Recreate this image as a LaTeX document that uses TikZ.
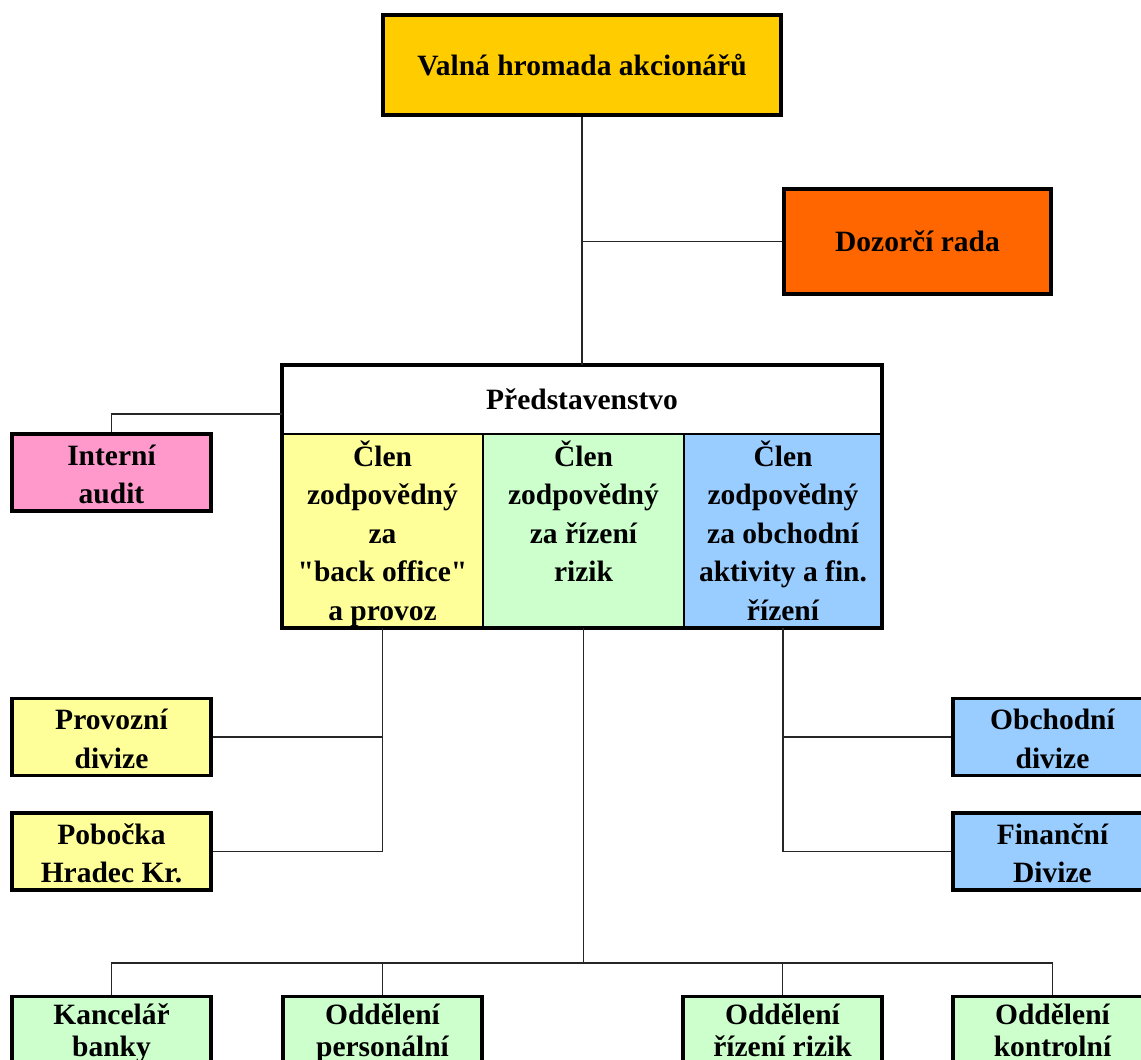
\documentclass[tikz,border=0pt]{standalone}
\usepackage{fontspec}
\setmainfont{Liberation Serif}[Ligatures=TeXOff]
\usetikzlibrary{positioning}

\definecolor{gold}{HTML}{FFCC00}
\definecolor{orng}{HTML}{FF6600}
\definecolor{pinkbox}{HTML}{FF99CC}
\definecolor{yelbox}{HTML}{FFFF99}
\definecolor{grnbox}{HTML}{CCFFCC}
\definecolor{blubox}{HTML}{99CCFF}

% text set from the top of its box: first baseline at #1 below the top
\newcommand{\memberText}[1]{\parbox[c][194pt][t]{196pt}{\centering\rule{0pt}{32pt}#1}}
\newcommand{\unitText}[2]{\parbox[c][77pt][t]{197pt}{\centering\rule{0pt}{#1}#2}}

\begin{document}
\begin{tikzpicture}[x=1pt,y=-1pt,
	orgfont/.style={font=\bfseries\fontsize{29.5}{38.5}\selectfont},
	unit/.style={orgfont,draw=black,line width=3.5pt,minimum width=199pt,minimum height=77pt,inner sep=0pt,align=center},
	lowunit/.style={unit,font=\bfseries\fontsize{29.5}{32}\selectfont},
	member/.style={orgfont,draw=black,line width=1.5pt,minimum width=201pt,minimum height=194pt,inner sep=0pt,outer sep=0pt},
	link/.style={line width=1.8pt,draw=black!85}]
	\useasboundingbox (0,0) rectangle (1141,1060);
	\clip (0,0) rectangle (1141,1060);
	
	%top
	\node[unit,fill=gold,minimum width=398pt,minimum height=100pt] (valna) at (582,65) {Valná hromada akcionářů};
	\node[unit,fill=orng,minimum width=267pt,minimum height=105pt] (dozor) at (917.5,241.5) {\raisebox{-2pt}{Dozorčí rada}};
	
	%board
	\node[member,fill=white,minimum width=600pt,minimum height=69pt] (head) at (582,399.5) {Představenstvo};
	\node[member,fill=yelbox] (colA) at (382.5,531) {\memberText{Člen\\zodpovědný\\za\\"back office"\\a provoz}};
	\node[member,fill=grnbox] (colB) at (583.5,531) {\memberText{Člen\\zodpovědný\\za řízení\\rizik}};
	\node[member,fill=blubox,minimum width=198pt] (colC) at (783,531) {\memberText{Člen\\zodpovědný\\za obchodní\\aktivity a fin.\\řízení}};
	\draw[line width=3.5pt] (head.north west) rectangle (colC.south east);
	
	%side units
	\node[unit,fill=pinkbox] (audit) at (111.5,472.5) {\unitText{31pt}{Interní\\audit}};
	\node[unit,fill=yelbox] (prov) at (111.5,737) {\unitText{31pt}{Provozní\\divize}};
	\node[unit,fill=yelbox] (pob) at (111.5,851.5) {\unitText{31pt}{Pobočka\\Hradec Kr.}};
	\node[unit,fill=blubox] (obch) at (1052.5,737) {\unitText{31pt}{Obchodní\\divize}};
	\node[unit,fill=blubox] (fin) at (1052.5,851.5) {\unitText{31pt}{Finanční\\Divize}};
	
	%bottom units
	\node[lowunit,fill=grnbox] (kanc) at (111.5,1035) {\unitText{28pt}{Kancelář\\banky}};
	\node[lowunit,fill=grnbox] (pers) at (382.5,1035) {\unitText{28pt}{Oddělení\\personální}};
	\node[lowunit,fill=grnbox] (rizk) at (782.5,1035) {\unitText{28pt}{Oddělení\\řízení rizik}};
	\node[lowunit,fill=grnbox] (kontr) at (1052.5,1035) {\unitText{28pt}{Oddělení\\kontrolní}};
	
	%links
	\coordinate (dz) at (valna.south |- dozor.west);
	\coordinate (bus) at (colB.south |- 0,963);
	\draw[link] (valna.south) -- (head.north);
	\draw[link] (dz) -- (dozor.west);
	\draw[link] ([yshift=-14.5pt]head.west) -| (audit.north);
	\draw[link] (colA.south) |- (pob.east);
	\draw[link] (prov.east) -- (prov.east -| colA.south);
	\draw[link] (colC.south) |- (fin.west);
	\draw[link] (obch.west) -- (obch.west -| colC.south);
	\draw[link] (colB.south) -- (bus);
	\draw[link] (kanc.north) |- (bus) -| (kontr.north);
	\draw[link] (pers.north) -- (pers.north |- bus);
	\draw[link] (rizk.north) -- (rizk.north |- bus);
	
	%\draw[help lines] (0,0) grid[step=50] (1141,1060);
\end{tikzpicture}
\end{document}
